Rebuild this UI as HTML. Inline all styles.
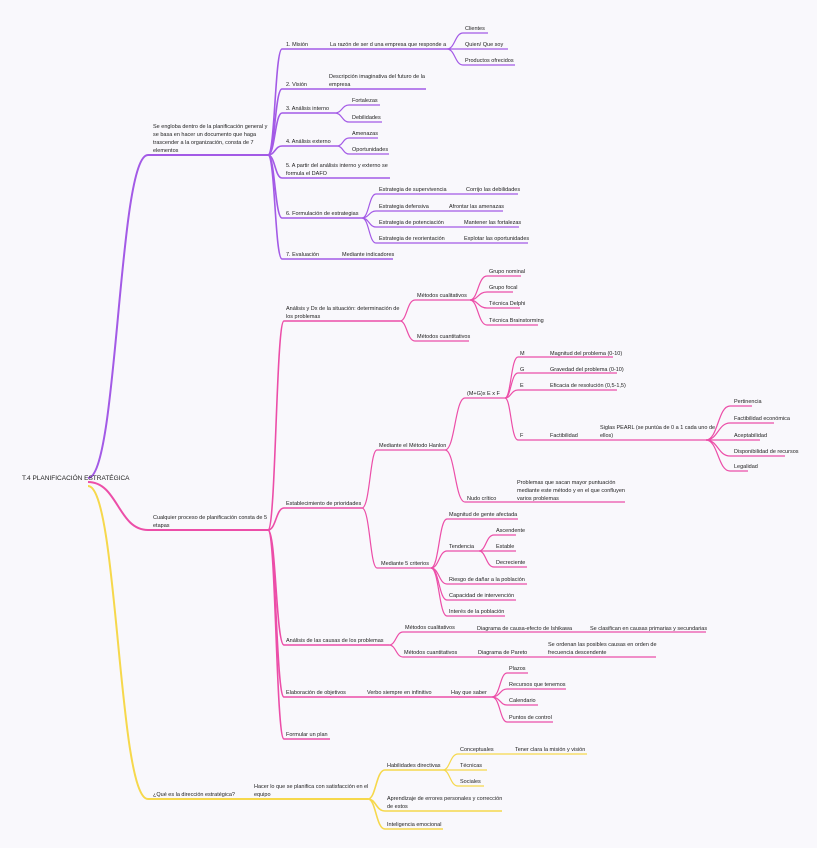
<!DOCTYPE html>
<html><head><meta charset="utf-8"><style>
html,body{margin:0;padding:0;background:#f9f8fc}
svg{display:block}
text{font-family:"Liberation Sans",sans-serif;font-size:5.5px;fill:#222}
.p{stroke:#a35ae6;fill:none}
.k{stroke:#ec4ea8;fill:none}
.y{stroke:#f6d84c;fill:none}
</style></head><body>
<svg width="817" height="848" viewBox="0 0 817 848">
<rect width="817" height="848" fill="#f9f8fc"/>
<!-- purple -->
<g class="p" stroke-width="1.2">
<path stroke-width="2" d="M88 478 C118 478 118 155 148 155 H268"/>
<path stroke-width="1.6" d="M268 155 C275 155 275 49 282 49 H447"/>
<path stroke-width="1.6" d="M268 155 C275 155 275 89 282 89 H426"/>
<path stroke-width="1.6" d="M268 155 C275 155 275 113 282 113 H335"/>
<path stroke-width="1.6" d="M268 155 C275 155 275 146 282 146 H337"/>
<path stroke-width="1.6" d="M268 155 C275 155 275 178 282 178 H390"/>
<path stroke-width="1.6" d="M268 155 C275 155 275 218 282 218 H362"/>
<path stroke-width="1.6" d="M268 155 C275 155 275 259 282 259 H393"/>
<path d="M447 49 C455 49 455 33 463 33 H488"/>
<path d="M447 49 H508"/>
<path d="M447 49 C455 49 455 65 463 65 H515"/>
<path d="M335 113 C342 113 342 105 349 105 H380"/>
<path d="M335 113 C342 113 342 122 349 122 H382"/>
<path d="M337 146 C343 146 343 138 349 138 H378"/>
<path d="M337 146 C343 146 343 154 349 154 H389"/>
<path d="M362 218 C369 218 369 194 376 194 H518"/>
<path d="M362 218 C369 218 369 211 376 211 H503"/>
<path d="M362 218 C369 218 369 227 376 227 H519"/>
<path d="M362 218 C369 218 369 243 376 243 H528"/>
</g>
<!-- pink -->
<g class="k" stroke-width="1.2">
<path stroke-width="2" d="M88 482 C118 482 118 530 148 530 H268"/>
<path stroke-width="1.6" d="M268 530 C276 530 276 321 284 321 H400"/>
<path stroke-width="1.6" d="M268 530 C276 530 276 508 284 508 H362"/>
<path stroke-width="1.6" d="M268 530 C276 530 276 645 284 645 H389"/>
<path stroke-width="1.6" d="M268 530 C276 530 276 697 284 697 H492"/>
<path stroke-width="1.6" d="M268 530 C276 530 276 739 284 739 H330"/>
<path d="M400 321 C407 321 407 300 415 300 H470"/>
<path d="M400 321 C407 321 407 341 415 341 H469"/>
<path d="M470 300 C478 300 478 276 487 276 H521"/>
<path d="M470 300 C478 300 478 292 487 292 H513"/>
<path d="M470 300 C478 300 478 308 487 308 H520"/>
<path d="M470 300 C478 300 478 325 487 325 H538"/>
<path d="M362 508 C370 508 370 450 377 450 H445"/>
<path d="M362 508 C370 508 370 568 377 568 H431"/>
<path d="M445 450 C455 450 455 398 465 398 H505"/>
<path d="M445 450 C455 450 455 502 465 502 H625"/>
<path d="M505 398 C511 398 511 357 518 357 H613"/>
<path d="M505 398 C511 398 511 373 518 373 H617"/>
<path d="M505 398 C511 398 511 390 518 390 H617"/>
<path d="M505 398 C511 398 511 440 518 440 H706"/>
<path d="M706 440 C718 440 718 406 730 406 H752"/>
<path d="M706 440 C718 440 718 423 730 423 H774"/>
<path d="M706 440 H760"/>
<path d="M706 440 C718 440 718 456 730 456 H785"/>
<path d="M706 440 C718 440 718 471 730 471 H748"/>
<path d="M431 568 C439 568 439 519 447 519 H518"/>
<path d="M431 568 C439 568 439 551 447 551 H479"/>
<path d="M431 568 C439 568 439 584 447 584 H527"/>
<path d="M431 568 C439 568 439 600 447 600 H516"/>
<path d="M431 568 C439 568 439 616 447 616 H505"/>
<path d="M479 551 C486 551 486 535 494 535 H516"/>
<path d="M479 551 H516"/>
<path d="M479 551 C486 551 486 567 494 567 H527"/>
<path d="M389 645 C396 645 396 632 403 632 H706"/>
<path d="M389 645 C396 645 396 657 403 657 H656"/>
<path d="M492 697 C500 697 500 673 507 673 H528"/>
<path d="M492 697 C500 697 500 689 507 689 H566"/>
<path d="M492 697 C500 697 500 705 507 705 H538"/>
<path d="M492 697 C500 697 500 722 507 722 H553"/>
</g>
<!-- yellow -->
<g class="y" stroke-width="1.2">
<path stroke-width="2" d="M88 486 C118 486 118 799 148 799 H368"/>
<path stroke-width="1.6" d="M368 799 C376 799 376 770 385 770 H443"/>
<path stroke-width="1.6" d="M368 799 C376 799 376 811 385 811 H502"/>
<path stroke-width="1.6" d="M368 799 C376 799 376 829 385 829 H443"/>
<path d="M443 770 C450 770 450 754 458 754 H587"/>
<path d="M443 770 H487"/>
<path d="M443 770 C450 770 450 786 458 786 H484"/>
</g>
<text x="22" y="480" style="font-size:6.5px">T.4 PLANIFICACIÓN ESTRATÉGICA</text>
<!-- purple texts -->
<text x="153" y="128">Se engloba dentro de la planificación general y</text>
<text x="153" y="136">se basa en hacer un documento que haga</text>
<text x="153" y="144">trascender a la organización, consta de 7</text>
<text x="153" y="152">elementos</text>
<text x="286" y="46">1. Misión</text>
<text x="330" y="46">La razón de ser d una empresa que responde a</text>
<text x="465" y="30">Clientes</text>
<text x="465" y="46">Quien/ Que soy</text>
<text x="465" y="62">Productos ofrecidos</text>
<text x="286" y="86">2. Visión</text>
<text x="329" y="78">Descripción imaginativa del futuro de la</text>
<text x="329" y="86">empresa</text>
<text x="286" y="110">3. Análisis interno</text>
<text x="352" y="102">Fortalezas</text>
<text x="352" y="119">Debilidades</text>
<text x="286" y="143">4. Análisis externo</text>
<text x="352" y="135">Amenazas</text>
<text x="352" y="151">Oportunidades</text>
<text x="286" y="167">5. A partir del análisis interno y externo se</text>
<text x="286" y="175">formula el DAFO</text>
<text x="286" y="215">6. Formulación de estrategias</text>
<text x="379" y="191">Estrategia de supervivencia</text>
<text x="466" y="191">Corrijo las debilidades</text>
<text x="379" y="208">Estrategia defensiva</text>
<text x="449" y="208">Afrontar las amenazas</text>
<text x="379" y="224">Estrategia de potenciación</text>
<text x="464" y="224">Mantener las fortalezas</text>
<text x="379" y="240">Estrategia de reorientación</text>
<text x="464" y="240">Explotar las oportunidades</text>
<text x="286" y="256">7. Evaluación</text>
<text x="342" y="256">Mediante indicadores</text>
<!-- pink texts -->
<text x="153" y="519">Cualquier proceso de planificación consta de 5</text>
<text x="153" y="527">etapas</text>
<text x="286" y="310">Análisis y Dx de la situación: determinación de</text>
<text x="286" y="318">los problemas</text>
<text x="417" y="297">Métodos cualitativos</text>
<text x="489" y="273">Grupo nominal</text>
<text x="489" y="289">Grupo focal</text>
<text x="489" y="305">Técnica Delphi</text>
<text x="489" y="322">Técnica Brainstorming</text>
<text x="417" y="338">Métodos cuantitativos</text>
<text x="286" y="505">Establecimiento de prioridades</text>
<text x="379" y="447">Mediante el Método Hanlon</text>
<text x="467" y="395">(M+G)x E x F</text>
<text x="520" y="355">M</text>
<text x="550" y="355">Magnitud del problema (0-10)</text>
<text x="520" y="371">G</text>
<text x="550" y="371">Gravedad del problema (0-10)</text>
<text x="520" y="387">E</text>
<text x="550" y="387">Eficacia de resolución (0,5-1,5)</text>
<text x="520" y="437">F</text>
<text x="550" y="437">Factibilidad</text>
<text x="600" y="429">Siglas PEARL (se puntúa de 0 a 1 cada uno de</text>
<text x="600" y="437">ellos)</text>
<text x="734" y="403">Pertinencia</text>
<text x="734" y="420">Factibilidad económica</text>
<text x="734" y="437">Aceptabilidad</text>
<text x="734" y="453">Disponibilidad de recursos</text>
<text x="734" y="468">Legalidad</text>
<text x="467" y="500">Nudo crítico</text>
<text x="517" y="484">Problemas que sacan mayor puntuación</text>
<text x="517" y="492">mediante este método y en el que confluyen</text>
<text x="517" y="500">varios problemas</text>
<text x="381" y="565">Mediante 5 criterios</text>
<text x="449" y="516">Magnitud de gente afectada</text>
<text x="449" y="548">Tendencia</text>
<text x="496" y="532">Ascendente</text>
<text x="496" y="548">Estable</text>
<text x="496" y="564">Decreciente</text>
<text x="449" y="581">Riesgo de dañar a la población</text>
<text x="449" y="597">Capacidad de intervención</text>
<text x="449" y="613">Interés de la población</text>
<text x="286" y="642">Análisis de las causas de los problemas</text>
<text x="405" y="629">Métodos cualitativos</text>
<text x="477" y="630">Diagrama de causa-efecto de Ishikawa</text>
<text x="590" y="630">Se clasifican en causas primarias y secundarias</text>
<text x="404" y="654">Métodos cuantitativos</text>
<text x="478" y="654">Diagrama de Pareto</text>
<text x="548" y="646">Se ordenan las posibles causas en orden de</text>
<text x="548" y="654">frecuencia descendente</text>
<text x="286" y="694">Elaboración de objetivos</text>
<text x="367" y="694">Verbo siempre en infinitivo</text>
<text x="451" y="694">Hay que saber</text>
<text x="509" y="670">Plazos</text>
<text x="509" y="686">Recursos que tenemos</text>
<text x="509" y="702">Calendario</text>
<text x="509" y="719">Puntos de control</text>
<text x="286" y="736">Formular un plan</text>
<!-- yellow texts -->
<text x="153" y="796">¿Qué es la dirección estratégica?</text>
<text x="254" y="788">Hacer lo que se planifica con satisfacción en el</text>
<text x="254" y="796">equipo</text>
<text x="387" y="767">Habilidades directivas</text>
<text x="460" y="751">Conceptuales</text>
<text x="515" y="751">Tener clara la misión y visión</text>
<text x="460" y="767">Técnicas</text>
<text x="460" y="783">Sociales</text>
<text x="387" y="800">Aprendizaje de errores personales y corrección</text>
<text x="387" y="808">de estos</text>
<text x="387" y="826">Inteligencia emocional</text>
</svg>
</body></html>
